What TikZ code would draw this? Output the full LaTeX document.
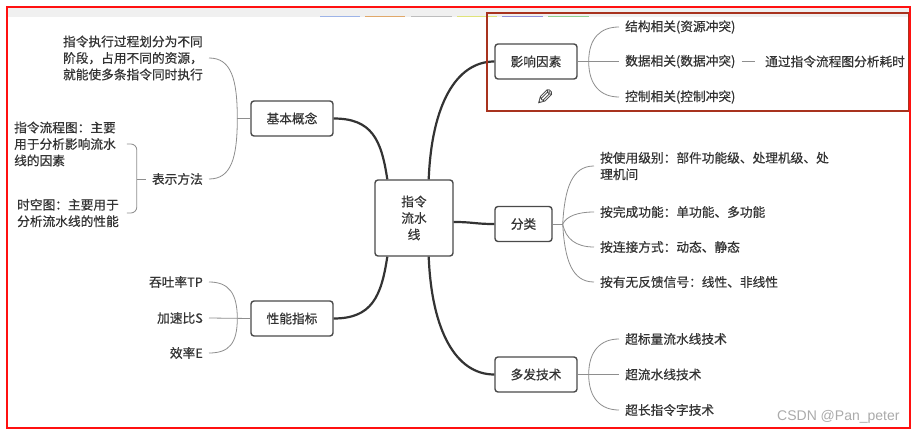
\documentclass[tikz,border=0pt]{standalone}
\usepackage{fontspec}
\setmainfont{Noto Sans CJK SC}[FakeBold=0.5]
\newfontfamily\markfont{Liberation Sans}
\newfontfamily\iconfont{DejaVu Sans}
\usetikzlibrary{positioning,calc}
\definecolor{ink}{HTML}{333333}
\definecolor{boxline}{HTML}{4A4A4A}
\definecolor{twiggray}{HTML}{8E8E8E}
\definecolor{framered}{HTML}{FF1010}
\definecolor{markred}{HTML}{A8321E}
\tikzset{
  topic/.style={draw=boxline, line width=1.4pt, rounded corners=3pt, minimum width=82pt, minimum height=35pt, inner sep=0pt, text=ink},
  leaf/.style={inner xsep=6pt, inner ysep=1pt, text=ink, align=left},
  limb/.style={draw=ink, line width=2.2pt},
  twig/.style={draw=twiggray, line width=0.8pt},
  tab/.style={line width=1pt},
}

\begin{document}
\begin{tikzpicture}[x=1pt, y=-1pt, font=\fontsize{12.7}{16.5}\selectfont]
  \useasboundingbox (0,0) rectangle (913,433);
  \fill[white] (0,0) rectangle (913,433);
  % toolbar strip of the screenshot
  \fill[black!6] (8,8) rectangle (909,17.5);
  \draw[tab, draw={rgb,255:red,157;green,180;blue,232}] (320,17) -- (360,17);
  \draw[tab, draw={rgb,255:red,224;green,168;blue,106}] (365,17) -- (405,17);
  \draw[tab, draw={rgb,255:red,189;green,189;blue,189}] (411,17) -- (452,17);
  \draw[tab, draw={rgb,255:red,223;green,227;blue,122}] (457,17) -- (497,17);
  \draw[tab, draw={rgb,255:red,143;green,143;blue,216}] (502,17) -- (543,17);
  \draw[tab, draw={rgb,255:red,143;green,208;blue,143}] (548,17) -- (589,17);

  % main topics
  \node[topic, minimum width=78pt, minimum height=76pt, align=center] (root) at (414,218) {指令\\流水\\线};
  \node[topic] (basic) at (292,118.5) {基本概念};
  \node[topic] (perf) at (292,318.5) {性能指标};
  \node[topic] (factor) at (536,61.5) {影响因素};
  \node[topic, minimum width=57pt] (kind) at (523.5,224) {分类};
  \node[topic] (multi) at (536,374.5) {多发技术};

  \draw[limb] (basic.east) .. controls +(38,0) and +(-6,-40) .. ($(root.north west)+(13,0)$);
  \draw[limb] ($(root.north east)+(-25,0)$) .. controls +(3,-75) and +(-38,0) .. (factor.west);
  \draw[limb] ($(root.east)+(0,4)$) .. controls +(20,0) and +(-20,0) .. (kind.west);
  \draw[limb] ($(root.south east)+(-25,0)$) .. controls +(3,75) and +(-38,0) .. (multi.west);
  \draw[limb] ($(root.south west)+(13,0)$) .. controls +(-6,40) and +(38,0) .. (perf.east);

  % basic concept
  \node[leaf, anchor=east] (concept) at (209,58) {指令执行过程划分为不同\\阶段，占用不同的资源，\\就能使多条指令同时执行};
  \node[leaf, anchor=east] (method) at (209,179) {表示方法};
  \coordinate (basicfork) at ($(basic.west)+(-13,0)$);
  \draw[twig] (basic.west) -- (basicfork);
  \draw[twig] (basicfork) .. controls +(0,-40) and +(22,0) .. (concept.east);
  \draw[twig] (basicfork) .. controls +(0,40) and +(22,0) .. (method.east);

  \node[leaf, anchor=west, inner xsep=0pt] (flowchart) at (14,144) {指令流程图：主要\\用于分析影响流水\\线的因素};
  \node[leaf, anchor=west, inner xsep=0pt] (spacetime) at (17,213) {时空图：主要用于\\分析流水线的性能};
  \coordinate (methodfork) at ($(method.west)+(-9,0)$);
  \draw[twig] (method.west) -- (methodfork);
  \draw[twig, rounded corners=6pt] ($(flowchart.east -| methodfork)+(-10,0)$) -| (methodfork) |- ($(spacetime.east -| methodfork)+(-10,0)$);

  % performance
  \node[leaf, anchor=east] (tp) at (209,282) {吞吐率TP};
  \node[leaf, anchor=east] (speedup) at (209,318) {加速比S};
  \node[leaf, anchor=east] (eff) at (209,353) {效率E};
  \coordinate (perffork) at ($(perf.west)+(-13,0)$);
  \draw[twig] (perf.west) -- (speedup.east);
  \draw[twig] (perffork) .. controls +(0,-25) and +(20,0) .. (tp.east);
  \draw[twig] (perffork) .. controls +(0,25) and +(20,0) .. (eff.east);

  % hazards
  \node[leaf, anchor=west] (struct) at (619,27) {结构相关(资源冲突)};
  \node[leaf, anchor=west] (datadep) at (619,61.5) {数据相关(数据冲突)};
  \node[leaf, anchor=west] (ctrl) at (619,97) {控制相关(控制冲突)};
  \node[leaf, anchor=west] (timing) at (759,61.5) {通过指令流程图分析耗时};
  \coordinate (factorfork) at ($(factor.east)+(11,0)$);
  \draw[twig] (factor.east) -- (datadep.west);
  \draw[twig] (factorfork) .. controls +(0,-24) and +(-18,0) .. (struct.west);
  \draw[twig] (factorfork) .. controls +(0,24) and +(-18,0) .. (ctrl.west);
  \draw[twig, shorten >=4pt] (datadep.east) -- (timing.west);
  \node[font=\iconfont\fontsize{22}{22}\selectfont, text=black!80, inner sep=0pt] (pencil) at (545,98) {\reflectbox{✎}};

  % classes
  \node[leaf, anchor=west] (bylevel) at (594,166) {按使用级别：部件功能级、处理机级、处\\理机间};
  \node[leaf, anchor=west] (byfunc) at (594,212) {按完成功能：单功能、多功能};
  \node[leaf, anchor=west] (bylink) at (594,247) {按连接方式：动态、静态};
  \node[leaf, anchor=west] (byfeedback) at (594,282) {按有无反馈信号：线性、非线性};
  \coordinate (kindfork) at ($(kind.east)+(10,0)$);
  \draw[twig] (kind.east) -- (kindfork);
  \draw[twig] (kindfork) .. controls +(2,-36) and +(-22,0) .. (bylevel.west);
  \draw[twig] (kindfork) .. controls +(4,-8) and +(-16,0) .. (byfunc.west);
  \draw[twig] (kindfork) .. controls +(3,15) and +(-18,0) .. (bylink.west);
  \draw[twig] (kindfork) .. controls +(2,36) and +(-22,0) .. (byfeedback.west);

  % multiple issue
  \node[leaf, anchor=west] (superscalar) at (619,339) {超标量流水线技术};
  \node[leaf, anchor=west] (superpipe) at (619,374.5) {超流水线技术};
  \node[leaf, anchor=west] (vliw) at (619,410) {超长指令字技术};
  \coordinate (multifork) at ($(multi.east)+(11,0)$);
  \draw[twig] (multi.east) -- (superpipe.west);
  \draw[twig] (multifork) .. controls +(0,-24) and +(-18,0) .. (superscalar.west);
  \draw[twig] (multifork) .. controls +(0,24) and +(-18,0) .. (vliw.west);

  \node[font=\markfont\fontsize{14}{14}\selectfont, text=black!33, anchor=west, inner sep=0pt] (watermark) at (777,417) {CSDN @Pan\_peter};

  % highlight frames
  \draw[markred, line width=1.8pt] (487,13) rectangle (909,111);
  \draw[framered, line width=2pt] (7,7) rectangle (910,428);
\end{tikzpicture}
\end{document}
